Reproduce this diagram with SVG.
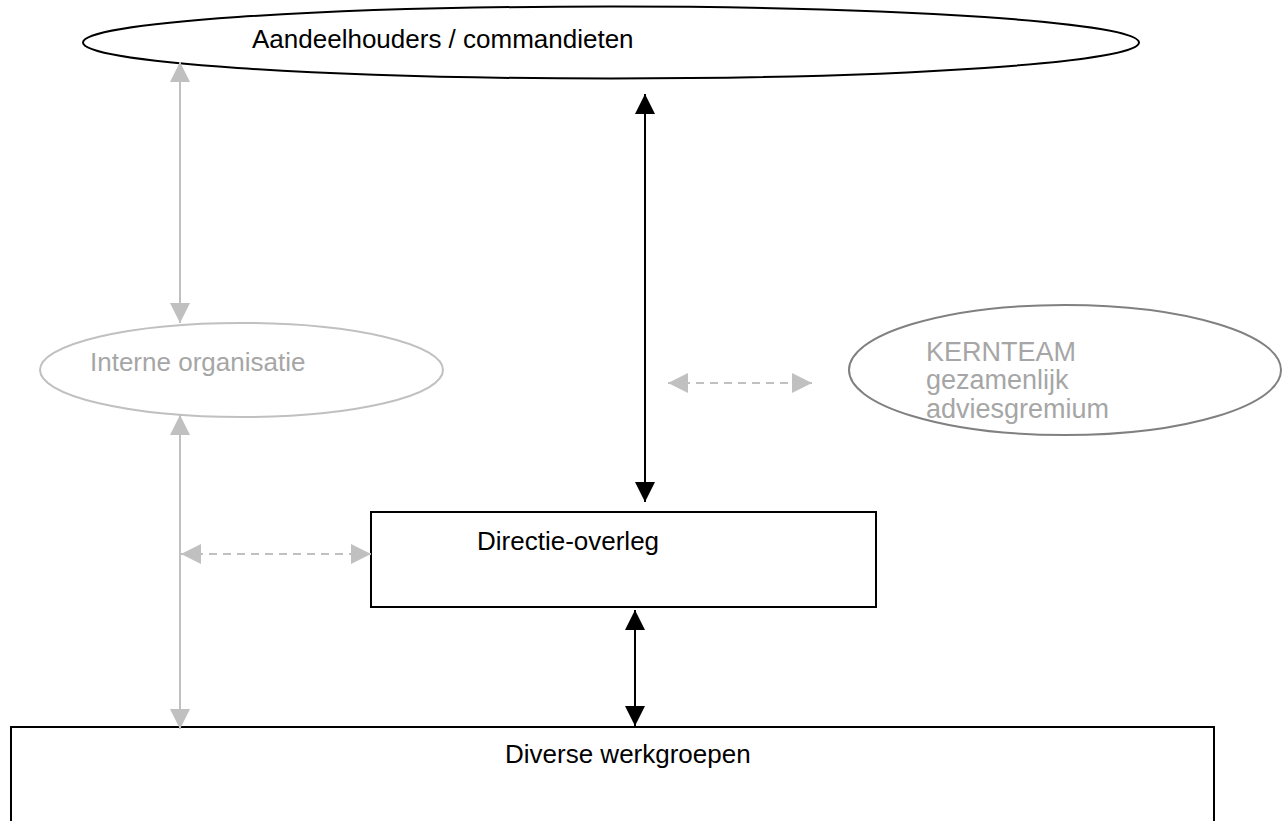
<svg xmlns="http://www.w3.org/2000/svg" width="1283" height="821" viewBox="0 0 1283 821">
<style>
.t{font-family:"Liberation Sans",Arial,sans-serif;font-size:26px;fill:#000}
.tg{font-family:"Liberation Sans",Arial,sans-serif;font-size:26px;fill:#a6a6a6}
.tk{font-family:"Liberation Sans",Arial,sans-serif;font-size:27px;fill:#a6a6a6}
.blk{stroke:#000;stroke-width:2;fill:none}
.gry{stroke:#c0c0c0;stroke-width:2;fill:none}
.dash{stroke:#c0c0c0;stroke-width:2;fill:none;stroke-dasharray:8 6}
</style>
<defs>
<marker id="ab" markerUnits="userSpaceOnUse" viewBox="0 0 20 20" refX="20" refY="10" markerWidth="20" markerHeight="20" orient="auto-start-reverse"><path d="M0,0 L20,10 L0,20 z" fill="#000"/></marker>
<marker id="ag" markerUnits="userSpaceOnUse" viewBox="0 0 20 20" refX="20" refY="10" markerWidth="20" markerHeight="20" orient="auto-start-reverse"><path d="M0,0 L20,10 L0,20 z" fill="#c0c0c0"/></marker>
</defs>
<rect width="1283" height="821" fill="#fff"/>
<g id="aandeelhouders">
<ellipse cx="611" cy="42.5" rx="528" ry="36" fill="#fff" stroke="#000" stroke-width="2"/>
<text class="t" x="252" y="48">Aandeelhouders / commandieten</text>
</g>
<g id="interne-organisatie">
<ellipse cx="241.5" cy="370" rx="201.5" ry="47" fill="#fff" stroke="#c0c0c0" stroke-width="2"/>
<text class="tg" x="90" y="371">Interne organisatie</text>
</g>
<g id="kernteam">
<ellipse cx="1065" cy="370" rx="216" ry="65" fill="#fff" stroke="#808080" stroke-width="2"/>
<text class="tk" x="926" y="361">KERNTEAM</text>
<text class="tk" x="926" y="389">gezamenlijk</text>
<text class="tk" x="926" y="418">adviesgremium</text>
</g>
<g id="directie-overleg">
<rect x="371" y="512" width="505" height="95" fill="#fff" stroke="#000" stroke-width="2"/>
<text class="t" x="477" y="550">Directie-overleg</text>
</g>
<g id="diverse-werkgroepen">
<rect x="11" y="727" width="1203" height="110" fill="#fff" stroke="#000" stroke-width="2"/>
<text class="t" x="505" y="763">Diverse werkgroepen</text>
</g>
<g id="connectors">
<line class="blk" x1="645" y1="94" x2="645" y2="502" marker-start="url(#ab)" marker-end="url(#ab)"/>
<line class="blk" x1="635" y1="610" x2="635" y2="726" marker-start="url(#ab)" marker-end="url(#ab)"/>
<line class="gry" x1="180" y1="62" x2="180" y2="323" marker-start="url(#ag)" marker-end="url(#ag)"/>
<line class="gry" x1="180" y1="415" x2="180" y2="729" marker-start="url(#ag)" marker-end="url(#ag)"/>
<line class="dash" x1="181" y1="554" x2="371" y2="554" marker-start="url(#ag)" marker-end="url(#ag)"/>
<line class="dash" x1="668" y1="383" x2="812" y2="383" marker-start="url(#ag)" marker-end="url(#ag)"/>
</g>
</svg>
